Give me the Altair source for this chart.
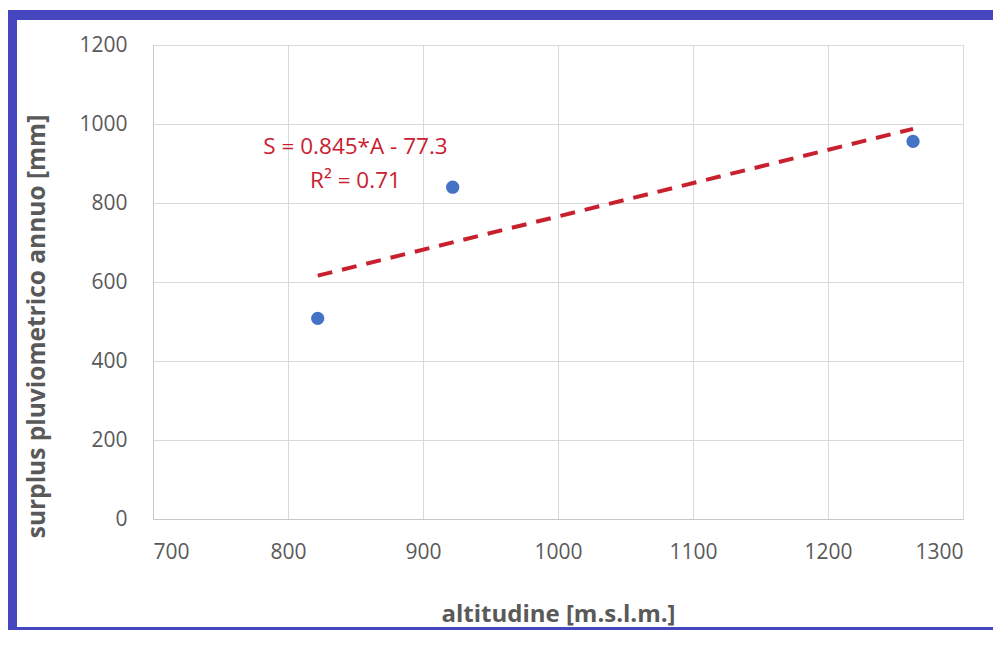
import altair as alt
import pandas as pd

# ---- data ----
altitudine = [822, 922, 1263]          # m s.l.m.
surplus = [508, 840, 956]              # mm
x_ticks = [700, 800, 900, 1000, 1100, 1200, 1300]
y_ticks = [0, 200, 400, 600, 800, 1000, 1200]
eq_labels = ["S = 0.845*A - 77.3", "R\u00b2 = 0.71"]
eq_alt = [850, 850]
eq_surplus = [942, 856]

df = pd.DataFrame({"altitudine": altitudine, "surplus": surplus})
eq_df = pd.DataFrame({"altitudine": eq_alt, "surplus": eq_surplus, "label": eq_labels})

FONT = "Open Sans"
GRAY_TXT = "#595959"
RED = "#c9202f"
BLUE_PT = "#4472c4"
FRAME = "#4646be"

xs = alt.Scale(domain=[700, 1300], nice=False, zero=False)
ys = alt.Scale(domain=[0, 1200], nice=False, zero=False)

x_axis = alt.Axis(
    values=x_ticks, format="d", title="altitudine [m.s.l.m.]", ticks=False,
    labelPadding=22, labelFontSize=21, labelColor=GRAY_TXT, labelFont=FONT,
    titleFont=FONT, titleFontSize=24, titleFontWeight="bold", titleColor=GRAY_TXT,
    titleY=95, titleBaseline="middle",
    grid=True, gridColor="#d9d9d9", domainColor="#c8c8c8",
)
y_axis = alt.Axis(
    values=y_ticks, format="d", title="surplus pluviometrico annuo [mm]", ticks=False,
    labelPadding=26, labelFontSize=21, labelColor=GRAY_TXT, labelFont=FONT,
    titleFont=FONT, titleFontSize=24.5, titleFontWeight="bold", titleColor=GRAY_TXT,
    titleX=-116, titleY=281, titleAngle=270, titleAlign="center", titleBaseline="middle",
    grid=True, gridColor="#d9d9d9", domainColor="#c8c8c8",
)

points = alt.Chart(df).mark_circle(size=175, color=BLUE_PT, opacity=1).encode(
    x=alt.X("altitudine:Q", scale=xs, axis=x_axis),
    y=alt.Y("surplus:Q", scale=ys, axis=y_axis),
)

trend = alt.Chart(df).transform_regression(
    "altitudine", "surplus", method="linear"
).mark_line(color=RED, strokeWidth=4, strokeDash=[15, 10]).encode(
    x=alt.X("altitudine:Q", scale=xs),
    y=alt.Y("surplus:Q", scale=ys),
)

eq_text = alt.Chart(eq_df).mark_text(
    font=FONT, fontSize=22.5, color=RED, align="center", baseline="middle"
).encode(
    x=alt.X("altitudine:Q", scale=xs),
    y=alt.Y("surplus:Q", scale=ys),
    text="label:N",
)

# decorative blue frame drawn as thick rules outside the plot area
one = alt.Data(values=[{}])
frame_left = alt.Chart(one).mark_rule(color=FRAME, strokeWidth=9).encode(
    x=alt.value(-140.5), y=alt.value(-35), y2=alt.value(585),
)
frame_top = alt.Chart(one).mark_rule(color=FRAME, strokeWidth=10).encode(
    x=alt.value(-145), x2=alt.value(840), y=alt.value(-30),
)
frame_bottom = alt.Chart(one).mark_rule(color=FRAME, strokeWidth=3).encode(
    x=alt.value(-145), x2=alt.value(840), y=alt.value(583.5),
)

chart = alt.layer(trend, points, eq_text, frame_left, frame_top, frame_bottom).properties(
    width=810, height=474,
    autosize=alt.AutoSizeParams(type="none"),
    padding={"left": 145, "top": 37, "right": 30, "bottom": 111},
).configure_view(stroke=None).configure(background="white")

chart.save("out.html", embed_options={"renderer": "svg", "actions": False})
